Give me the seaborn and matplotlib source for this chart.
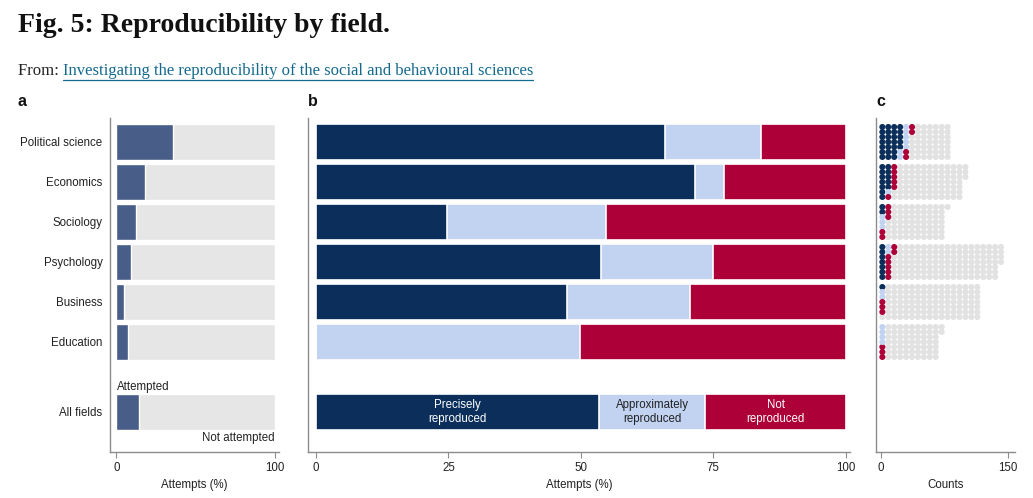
"""
Fig. 5: Reproducibility by field -- three panel bar / dot chart.
"""

import matplotlib
matplotlib.use("Agg")
import matplotlib.pyplot as plt
from matplotlib.lines import Line2D
import numpy as np
import pandas as pd
import seaborn as sns

# ---- data ----
fields = ["Political science", "Economics", "Sociology", "Psychology", "Business", "Education"]
all_label = "All fields"

# panel a: share of papers attempted (%)
attempted_pct = [36.0, 18.0, 12.5, 9.5, 5.0, 7.5]
attempted_all_pct = 14.0

# panel b: outcome of attempts (%), last entry = all fields
precise_pct = [65.8, 71.5, 24.7, 53.8, 47.4, 0.0, 53.5]
approx_pct = [18.2, 5.6, 30.0, 21.1, 23.2, 49.8, 20.0]
not_pct = [16.0, 22.9, 45.3, 25.1, 29.4, 50.2, 26.5]

# panel c: paper counts per field
total_n = [84, 101, 78, 144, 119, 72]
precise_n = [26, 12, 2, 7, 1, 0]
approx_n = [7, 1, 3, 2, 2, 4]
not_n = [4, 6, 5, 7, 3, 3]

NAVY = "#0b2f5a"
LIGHT = "#c2d3f2"
CRIMSON = "#ad0039"
SLATE = "#485d88"
BG = "#e6e6e6"
DOT_BG = "#e2e2e2"
SPINE = "#8c8c8c"
TXT = "#222222"
FS = 8.3

sns.set_theme(style="white")
plt.rcParams["font.family"] = ["Liberation Sans", "DejaVu Sans"]

fig = plt.figure(figsize=(10.33, 4.98), dpi=100)

bottom, height = 0.0924, 0.6707
ax_a = fig.add_axes([0.1065, bottom, 0.1636, height])
ax_b = fig.add_axes([0.2982, bottom, 0.5246, height])
ax_c = fig.add_axes([0.848, bottom, 0.1346, height])

ypos = list(range(len(fields))) + [6.75]
labels = fields + [all_label]
ylim = (7.75, -0.6)

# ---- panel a ----
df_a = pd.DataFrame({
    "y": ypos,
    "full": [100.0] * len(ypos),
    "attempted": attempted_pct + [attempted_all_pct],
})
sns.barplot(data=df_a, x="full", y="y", orient="h", native_scale=True,
            color=BG, saturation=1, width=0.9, errorbar=None, ax=ax_a)
sns.barplot(data=df_a, x="attempted", y="y", orient="h", native_scale=True,
            color=SLATE, saturation=1, width=0.9, errorbar=None, ax=ax_a)
ax_a.set_xlim(-4, 102.5)
ax_a.set_ylim(*ylim)
ax_a.set_yticks(ypos, labels=labels)
ax_a.set_xticks([0, 100])
ax_a.set_xlabel("Attempts (%)", fontsize=FS, color=TXT)
ax_a.set_ylabel("")
ax_a.text(0.5, 6.75 - 0.48, "Attempted", ha="left", va="bottom", fontsize=FS, color=TXT)
ax_a.text(100, 6.75 + 0.5, "Not attempted", ha="right", va="top", fontsize=FS, color=TXT)

# ---- panel b ----
cum1 = np.array(precise_pct)
cum2 = cum1 + np.array(approx_pct)
cum3 = cum2 + np.array(not_pct)
df_b = pd.DataFrame({"y": ypos, "c1": cum1, "c2": cum2, "c3": cum3})
for col, colr in [("c3", CRIMSON), ("c2", LIGHT), ("c1", NAVY)]:
    sns.barplot(data=df_b, x=col, y="y", orient="h", native_scale=True,
                color=colr, saturation=1, width=0.9, errorbar=None,
                edgecolor="white", linewidth=1.2, ax=ax_b)
ax_b.set_xlim(-1.5, 100.8)
ax_b.set_ylim(*ylim)
ax_b.set_yticks([])
ax_b.set_xticks([0, 25, 50, 75, 100])
ax_b.set_xlabel("Attempts (%)", fontsize=FS, color=TXT)
ax_b.set_ylabel("")

yl = ypos[-1]
mids = [cum1[-1] / 2, (cum1[-1] + cum2[-1]) / 2, (cum2[-1] + cum3[-1]) / 2]
for m, t, c in zip(mids, ["Precisely\nreproduced", "Approximately\nreproduced", "Not\nreproduced"],
                   ["white", TXT, "white"]):
    ax_b.text(m, yl, t, ha="center", va="center", fontsize=FS, color=c, linespacing=1.15)

# ---- panel c ----
n_rows = 7
recs = []
for i, f in enumerate(fields):
    p, a, n = precise_n[i], approx_n[i], not_n[i]
    cats = ["precise"] * p + ["approx"] * a + ["not"] * n + ["none"] * (total_n[i] - p - a - n)
    for k, cat in enumerate(cats):
        col, r = divmod(k, n_rows)
        recs.append({"x": col * n_rows + 1.5, "y": i + (r - 3) * 0.125, "cat": cat})
dots = pd.DataFrame(recs)
dots["order"] = (dots["cat"] != "none").astype(int)
dots = dots.sort_values("order")
sns.scatterplot(data=dots, x="x", y="y", hue="cat",
                palette={"none": DOT_BG, "precise": NAVY, "approx": LIGHT, "not": CRIMSON},
                s=19, linewidth=0, legend=False, ax=ax_c)
ax_c.set_xlim(-6, 158)
ax_c.set_ylim(*ylim)
ax_c.set_yticks([])
ax_c.set_xticks([0, 150])
ax_c.set_xlabel("Counts", fontsize=FS, color=TXT)
ax_c.set_ylabel("")

for ax in (ax_a, ax_b, ax_c):
    sns.despine(ax=ax)
    for s in ("left", "bottom"):
        ax.spines[s].set_color(SPINE)
        ax.spines[s].set_linewidth(1.0)
    ax.tick_params(axis="x", bottom=True, length=4, width=0.8, color=SPINE,
                   labelsize=FS, labelcolor=TXT, pad=3)
    ax.tick_params(axis="y", left=False, length=0, labelsize=FS, labelcolor=TXT, pad=5.5)

# panel letters
for x, lab in [(18, "a"), (308, "b"), (876, "c")]:
    fig.text(x / 1033, 1 - 102 / 498, lab, fontsize=11.5, fontweight="bold", va="center", color="#111")

# title + source line
fig.text(18 / 1033, 1 - 26 / 498, "Fig. 5: Reproducibility by field.", fontsize=20,
         fontweight="bold", family="Liberation Serif", va="center", color="#111")
t_from = fig.text(18 / 1033, 1 - 71 / 498, "From: ", fontsize=12, family="Liberation Serif",
                  va="center", color="#222")
fig.canvas.draw()
bb = t_from.get_window_extent()
link_color = "#14698f"
t_link = fig.text(bb.x1 / 1033, 1 - 71 / 498,
                  "Investigating the reproducibility of the social and behavioural sciences",
                  fontsize=12, family="Liberation Serif", va="center", color=link_color)
fig.canvas.draw()
lb = t_link.get_window_extent()
yline = (lb.y0 - 1) / 498
fig.add_artist(Line2D([lb.x0 / 1033, lb.x1 / 1033], [yline, yline],
                      transform=fig.transFigure, color=link_color, linewidth=0.9))

fig.savefig("out.png", dpi=100)
